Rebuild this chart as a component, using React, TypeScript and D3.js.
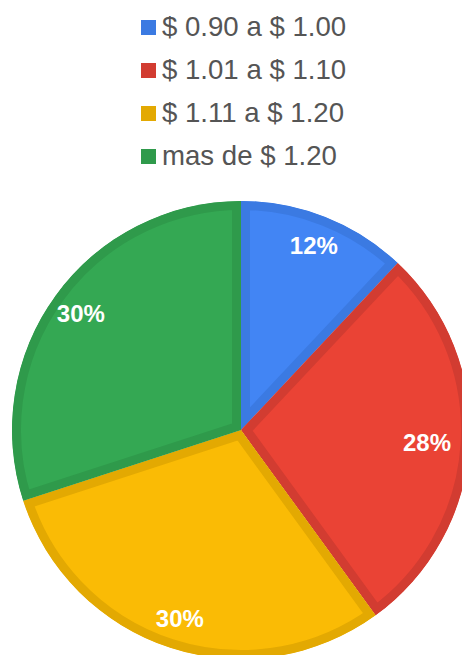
import React, { useEffect, useRef } from "react";
import * as d3 from "d3";

// chart data
const categories = ["$ 0.90 a $ 1.00", "$ 1.01 a $ 1.10", "$ 1.11 a $ 1.20", "mas de $ 1.20"];
const shares = [12, 28, 30, 30];
const fills = ["#4285F4", "#EA4335", "#FABB05", "#34A853"];
const borders = ["#3B7AE2", "#D23C31", "#E3A902", "#2F9A4B"];

export default function App() {
  const ref = useRef<SVGSVGElement>(null);

  useEffect(() => {
    const W = 462, H = 655;
    const svg = d3.select(ref.current).attr("width", W).attr("height", H);
    svg.selectAll("*").remove();

    // legend
    const legend = svg.append("g").attr("transform", "translate(141,0)");
    const rows = legend.selectAll("g").data(categories).join("g")
      .attr("transform", (d, i) => `translate(0,${36 + i * 43})`);
    rows.append("rect")
      .attr("x", 0).attr("y", -16).attr("width", 15).attr("height", 15)
      .attr("fill", (d, i) => borders[i]);
    rows.append("text")
      .attr("x", 21).attr("y", 0)
      .style("font-family", "Arial, 'Liberation Sans', sans-serif")
      .style("font-size", "27.6px")
      .attr("fill", "#555")
      .text(d => d);

    // pie
    const cx = 241, cy = 430, r = 229;
    const pie = d3.pie<number>().sort(null).value(d => d);
    const arc = d3.arc<d3.PieArcDatum<number>>().innerRadius(0).outerRadius(r);
    const labelArc = d3.arc<d3.PieArcDatum<number>>().innerRadius(198).outerRadius(198);
    const arcs = pie(shares);

    const g = svg.append("g").attr("transform", `translate(${cx},${cy})`);
    const defs = svg.append("defs");
    arcs.forEach((a, i) => {
      defs.append("clipPath").attr("id", "slice" + i)
        .append("path").attr("d", arc(a) as string);
    });

    g.selectAll("path.slice").data(arcs).join("path")
      .attr("class", "slice")
      .attr("d", d => arc(d) as string)
      .attr("fill", (d, i) => fills[i])
      .attr("stroke", (d, i) => borders[i])
      .attr("stroke-width", 18)
      .attr("stroke-linejoin", "miter")
      .attr("clip-path", (d, i) => `url(#slice${i})`);

    // percentage labels, kept inside the window
    g.selectAll("text.lbl").data(arcs).join("text")
      .attr("class", "lbl")
      .attr("x", d => Math.min(labelArc.centroid(d)[0], W - cx - 35))
      .attr("y", d => labelArc.centroid(d)[1])
      .attr("text-anchor", "middle")
      .attr("dominant-baseline", "central")
      .style("font-family", "Arial, 'Liberation Sans', sans-serif")
      .style("font-size", "24px")
      .style("font-weight", "bold")
      .attr("fill", "#fff")
      .text(d => d.data + "%");
  }, []);

  return (
    <svg ref={ref} style={{ position: "absolute", left: 0, top: 0, display: "block" }} />
  );
}
